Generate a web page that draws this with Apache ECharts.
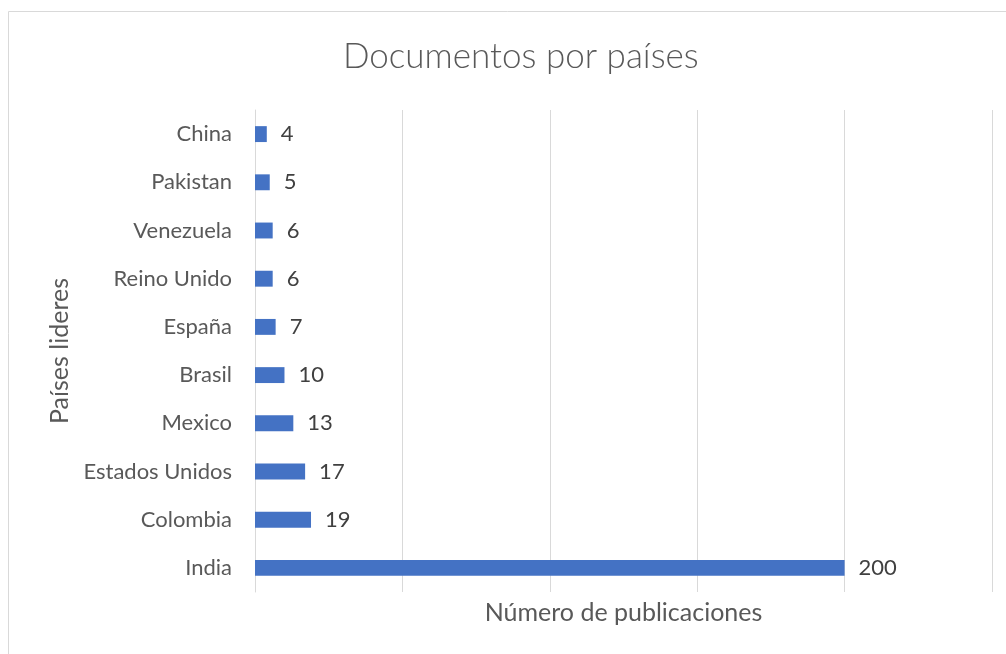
<!DOCTYPE html>
<html>
<head>
<meta charset="utf-8">
<script src="https://cdn.jsdelivr.net/npm/echarts@6/dist/echarts.min.js"></script>
<style>
  html, body { margin: 0; padding: 0; background: #fff; }
  #chart { width: 1006px; height: 654px; }
</style>
</head>
<body>
<div id="chart"></div>
<script>
// datos (de abajo hacia arriba)
var paises = ['India', 'Colombia', 'Estados Unidos', 'Mexico', 'Brasil', 'España', 'Reino Unido', 'Venezuela', 'Pakistan', 'China'];
var documentos = [200, 19, 17, 13, 10, 7, 6, 6, 5, 4];
var escala = [0, 250, 50]; // min, max, intervalo

var fuente = 'Lato, "Open Sans", sans-serif';
var chart = echarts.init(document.getElementById('chart'));

chart.setOption({
  animation: false,
  title: {
    text: 'Documentos por países',
    left: 338,
    top: 34,
    textStyle: { fontFamily: fuente, fontSize: 35, fontWeight: 300, color: '#595959' }
  },
  graphic: [{
    type: 'rect',
    shape: { x: 8.5, y: 11.5, width: 1010, height: 660 },
    style: { fill: 'none', stroke: '#d9d9d9', lineWidth: 1 },
    silent: true
  }],
  grid: { left: 255, right: 14, top: 110, bottom: 62, containLabel: false },
  xAxis: {
    type: 'value',
    min: escala[0],
    max: escala[1],
    interval: escala[2],
    name: 'Número de publicaciones',
    nameLocation: 'middle',
    nameGap: 8,
    nameTextStyle: { fontFamily: fuente, fontSize: 25, color: '#595959' },
    axisLabel: { show: false },
    axisLine: { show: false },
    axisTick: { show: false },
    splitLine: { show: true, lineStyle: { color: '#d9d9d9', width: 1 } }
  },
  yAxis: {
    type: 'category',
    data: paises,
    name: 'Países lideres',
    nameLocation: 'middle',
    nameGap: 180,
    nameRotate: 90,
    nameTextStyle: { fontFamily: fuente, fontSize: 25, color: '#595959' },
    axisLine: { show: true, lineStyle: { color: '#d9d9d9', width: 1 } },
    axisTick: { show: false },
    axisLabel: { fontFamily: fuente, fontSize: 22, color: '#595959', margin: 23 }
  },
  series: [{
    type: 'bar',
    data: documentos,
    barWidth: '33%',
    itemStyle: { color: '#4472c4' },
    label: {
      show: true,
      position: 'right',
      distance: 14,
      fontFamily: fuente,
      fontSize: 22,
      color: '#404040'
    }
  }]
});
</script>
</body>
</html>
